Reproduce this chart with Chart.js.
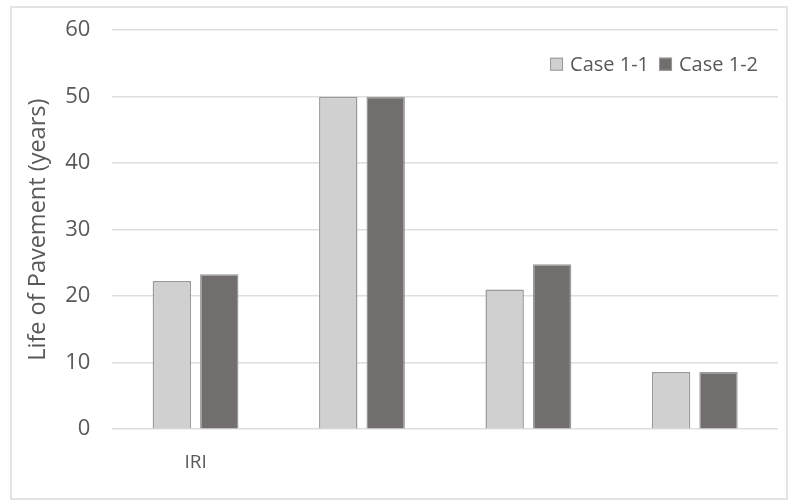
<!DOCTYPE html>
<html>
<head>
<meta charset="utf-8">
<script src="https://cdn.jsdelivr.net/npm/chart.js@4"></script>
<style>
	body { margin: 0; background: #fff; }
	#frame {
		position: absolute;
		left: 10px;
		top: 6px;
		width: 774px;
		height: 490px;
		border: 2px solid #e4e4e4;
	}
	#wrap {
		position: absolute;
		left: 12px;
		top: -5px;
		width: 774px;
		height: 501px;
	}
</style>
</head>
<body>
<div id="frame"></div>
<div id="wrap"><canvas id="chart"></canvas></div>
<script>
const categories = ['IRI', '', '', ''];
const case11 = [22.3, 50, 21.0, 8.6];
const case12 = [23.3, 50, 24.8, 8.6];
const yTicks = [0, 10, 20, 30, 40, 50, 60];

const fontFamily = '"Open Sans", "Noto Sans", sans-serif';
const textColor = '#595959';

// legend drawn inside the plot, top right, like the original
const innerLegend = {
	id: 'innerLegend',
	afterDraw(chart) {
		const c = chart.ctx;
		const area = chart.chartArea;
		c.save();
		c.font = '20px ' + fontFamily;
		c.textBaseline = 'middle';
		const y = area.top + 34;
		const items = chart.data.datasets.map(ds => ({
			text: ds.label,
			fill: ds.backgroundColor,
			stroke: ds.borderColor,
			w: c.measureText(ds.label).width
		}));
		const box = 13;
		const gap = 7;
		const between = 10;
		let total = 0;
		items.forEach((it, i) => {
			total += box + gap + it.w + (i < items.length - 1 ? between : 0);
		});
		let x = area.right - 20 - total;
		items.forEach(it => {
			c.fillStyle = it.fill;
			c.fillRect(x, y - box / 2, box, box);
			c.strokeStyle = it.stroke;
			c.lineWidth = 1;
			c.strokeRect(x + 0.5, y - box / 2 + 0.5, box - 1, box - 1);
			x += box + gap;
			c.fillStyle = textColor;
			c.fillText(it.text, x, y + 1);
			x += it.w + between;
		});
		c.restore();
	}
};

const ctx = document.getElementById('chart').getContext('2d');
const chart = new Chart(ctx, {
	type: 'bar',
	data: {
		labels: categories,
		datasets: [
			{
				label: 'Case 1-1',
				data: case11,
				backgroundColor: '#d0d0d0',
				borderColor: '#999999',
				borderWidth: 1.5,
				categoryPercentage: 0.57,
				barPercentage: 0.81
			},
			{
				label: 'Case 1-2',
				data: case12,
				backgroundColor: '#726e6d',
				borderColor: '#999999',
				borderWidth: 1.5,
				categoryPercentage: 0.57,
				barPercentage: 0.81
			}
		]
	},
	plugins: [innerLegend],
	options: {
		responsive: true,
		maintainAspectRatio: false,
		animation: false,
		layout: {
			padding: { left: 12, right: 8, top: 0, bottom: 8 }
		},
		plugins: {
			tooltip: { enabled: false },
			legend: { display: false }
		},
		scales: {
			x: {
				grid: { display: false },
				border: { display: false },
				ticks: {
					color: textColor,
					padding: 14,
					font: { family: fontFamily, size: 19 }
				}
			},
			y: {
				min: 0,
				max: 60,
				afterBuildTicks: (axis) => {
					axis.ticks = yTicks.map(v => ({ value: v }));
				},
				afterFit: (axis) => {
					axis.width -= 11;
				},
				grid: { color: '#dedede', lineWidth: 1.5, drawTicks: false },
				border: { display: false },
				ticks: {
					color: textColor,
					padding: 22,
					font: { family: fontFamily, size: 22 }
				},
				title: {
					display: true,
					text: 'Life of Pavement (years)',
					color: textColor,
					padding: { top: 0, bottom: 2 },
					font: { family: fontFamily, size: 23.5 }
				}
			}
		}
	}
});
</script>
</body>
</html>
